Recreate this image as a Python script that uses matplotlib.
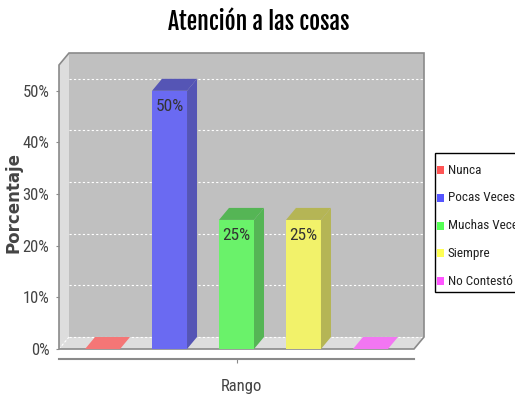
import matplotlib
matplotlib.use('Agg')
import matplotlib.pyplot as plt
from matplotlib.patches import Polygon, Rectangle

categorias = ['Nunca', 'Pocas Veces', 'Muchas Veces', 'Siempre', 'No Contestó']
porcentajes = [0, 50, 25, 25, 0]
ticks_y = [0, 10, 20, 30, 40, 50]
etiquetas_y = ['0%', '10%', '20%', '30%', '40%', '50%']

# colores estilo jfreechart (con alpha sobre el gris)
color_frente = ['#f26a6a', '#6a6af2', '#6af26a', '#f2f26a', '#f26af2']
color_lado = ['#b55555', '#5555b5', '#55b555', '#b5b555', '#b555b5']
color_piso = ['#f47676', '#7676f4', '#76f476', '#f4f476', '#f276f2']
color_leyenda = ['#ff5555', '#5555ff', '#55ff55', '#ffff55', '#ff55ff']

narrow = ['Roboto Condensed', 'DejaVu Sans']
plt.rcParams['font.family'] = narrow

W, H = 515, 401
fig = plt.figure(figsize=(W/100, H/100), dpi=100)
ax = fig.add_axes([59/W, 52/H, 355/W, 284/H])
xmin, xmax = -0.65, len(categorias) - 1 + 0.65
ymax = 55
ax.set_xlim(xmin, xmax)
ax.set_ylim(0, ymax)
DX = 10 / (355 / (xmax - xmin))
DY = 12 / (284 / ymax)
w = 35 / (355 / (xmax - xmin))

# paredes
ax.add_patch(Polygon([(xmin+DX, DY), (xmax+DX, DY), (xmax+DX, ymax+DY), (xmin+DX, ymax+DY)],
                     closed=True, fc='#c0c0c0', ec='none', clip_on=False, zorder=0))
ax.add_patch(Polygon([(xmin, 0), (xmin, ymax), (xmin+DX, ymax+DY), (xmin+DX, DY)],
                     closed=True, fc='#dddddd', ec='none', clip_on=False, zorder=0))
ax.add_patch(Polygon([(xmin, 0), (xmax, 0), (xmax+DX, DY), (xmin+DX, DY)],
                     closed=True, fc='#dddddd', ec='none', clip_on=False, zorder=0))
for t in ticks_y:
    ax.plot([xmin+DX, xmax+DX], [t+DY, t+DY], color='white', ls=(0, (2, 2)), lw=0.8,
            clip_on=False, zorder=1)
ax.plot([xmin, xmin+DX], [0, DY], color='white', ls=(0, (2, 2)), lw=0.8, clip_on=False, zorder=1)
ax.add_patch(Polygon([(xmin, 0), (xmin, ymax), (xmin+DX, ymax+DY), (xmax+DX, ymax+DY),
                      (xmax+DX, DY), (xmax, 0)],
                     closed=True, fc='none', ec='#8a8a8a', lw=1.2, clip_on=False, zorder=2))

# barras
for i, v in enumerate(porcentajes):
    x0, x1 = i - w/2, i + w/2
    if v > 0:
        ax.bar(i, v, width=w, color=color_frente[i], zorder=3)
        ax.add_patch(Polygon([(x1, 0), (x1+DX, DY), (x1+DX, v+DY), (x1, v)],
                             closed=True, fc=color_lado[i], ec='none', clip_on=False, zorder=3))
        ax.add_patch(Polygon([(x0, v), (x1, v), (x1+DX, v+DY), (x0+DX, v+DY)],
                             closed=True, fc=color_lado[i], ec='none', clip_on=False, zorder=3))
        ax.annotate('%d%%' % v, (i, v), xytext=(0, -6), textcoords='offset points',
                    ha='center', va='top', fontsize=12.5, color='#333333', zorder=4)
    else:
        ax.add_patch(Polygon([(x0, 0), (x1, 0), (x1+DX, DY), (x0+DX, DY)],
                             closed=True, fc=color_piso[i], ec='none', clip_on=False, zorder=3))

for s in ['top', 'right', 'left']:
    ax.spines[s].set_visible(False)
ax.spines['bottom'].set_position(('outward', 7))
ax.spines['bottom'].set_color('#8a8a8a')
ax.spines['bottom'].set_linewidth(1.5)
ax.set_xticks([(len(categorias) - 1) / 2])
ax.set_xticklabels([''])
ax.tick_params(axis='x', length=3, color='#8a8a8a')
ax.set_yticks(ticks_y)
ax.set_yticklabels(etiquetas_y)
ax.tick_params(axis='y', length=2, color='#8a8a8a', labelcolor='#444444', labelsize=12, pad=5)
ax.set_facecolor('none')

fig.text(259/W, 1 - 22/H, 'Atención a las cosas', ha='center', va='center',
         fontsize=17, fontweight='bold', color='black',
         family=['Fjalla One', 'Oswald', 'Roboto Condensed'])
fig.text(241/W, 1 - 387/H, 'Rango', ha='center', va='center', fontsize=12, color='#444444')
fig.text(14/W, 1 - 202/H, 'Porcentaje', ha='center', va='center', rotation=90,
         fontsize=12, fontweight='bold', color='#444444', family=['DejaVu Sans'])

# leyenda (cortada por el borde derecho, como en el original)
fig.patches.append(Rectangle((435/W, 1 - 292/H), 100/W, 139/H, transform=fig.transFigure,
                             fc='white', ec='black', lw=1, clip_on=True))
for k, (nombre, c) in enumerate(zip(categorias, color_leyenda)):
    yc = 170 + 27.8 * k
    fig.patches.append(Rectangle((437/W, 1 - (yc + 4)/H), 7/W, 8/H, transform=fig.transFigure,
                                 fc=c, ec='none'))
    fig.text(448/W, 1 - yc/H, nombre, ha='left', va='center', fontsize=9.5, color='#222222')

fig.savefig('out.png', dpi=100, facecolor='white')
